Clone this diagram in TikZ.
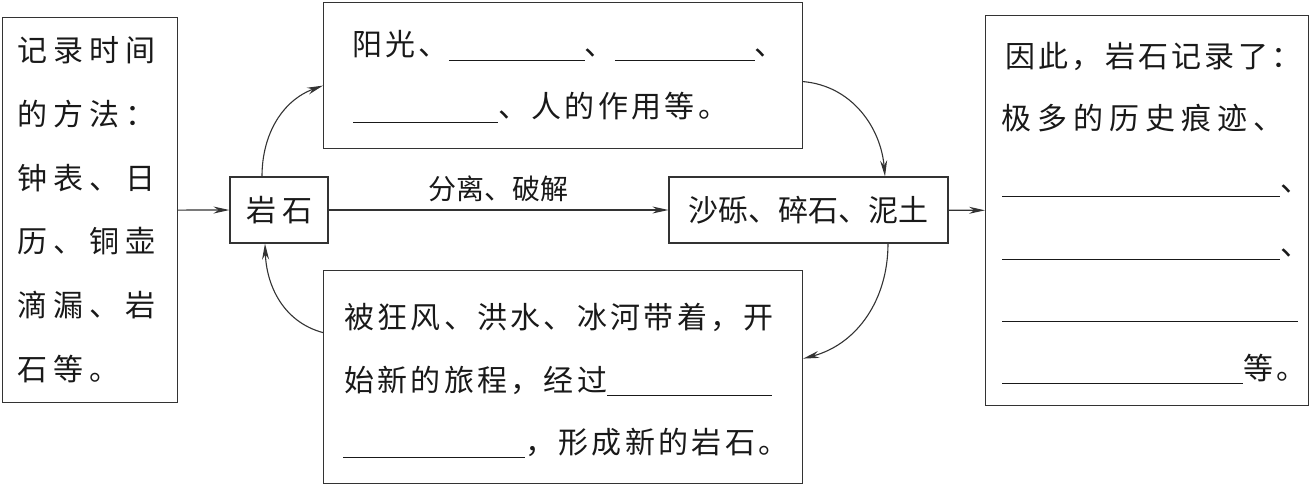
\documentclass[tikz,border=0pt]{standalone}
\usepackage{fontspec}
\usetikzlibrary{arrows.meta}
\newfontfamily\cnText[LetterSpace=11]{Noto Sans CJK SC}
\newfontfamily\cnWide[LetterSpace=20]{Noto Sans CJK SC}
\newfontfamily\cnTight{Noto Sans CJK SC}
\newcommand{\blank}[1]{\rule[-5pt]{#1pt}{1.2pt}}

\begin{document}
\begin{tikzpicture}[x=1pt, y=-1pt,
    box/.style={draw=black!80, line width=1.2pt, inner sep=0pt},
    txt/.style={anchor=base west, inner sep=0pt, text=black!90, font=\fontsize{30}{36}\selectfont\cnText},
    txtwide/.style={txt, font=\fontsize{30}{36}\selectfont\cnWide},
    flow/.style={draw=black!80, line width=1.1pt, -{Stealth[length=16pt,width=7pt]}}]
  \useasboundingbox (0,0) rectangle (1315,484);
  % boxes
  \node[box, minimum width=175pt, minimum height=385pt, anchor=north west] (timebox) at (2,17) {};
  \node[box, minimum width=98pt, minimum height=66pt, text=black!90, font=\fontsize{30}{36}\selectfont\cnWide] (rock) at (279,210) {岩石};
  \node[box, minimum width=479pt, minimum height=146pt, anchor=north west] (sunbox) at (323,2) {};
  \node[box, minimum width=279pt, minimum height=66pt, text=black!90, font=\fontsize{30}{36}\selectfont\cnTight] (gravel) at (808.5,210) {沙砾、碎石、泥土};
  \node[box, minimum width=479pt, minimum height=213pt, anchor=north west] (travelbox) at (323,270) {};
  \node[box, minimum width=323pt, minimum height=390pt, anchor=north west] (recordbox) at (985,15) {};
  % left text
  \foreach \line [count=\i from 0] in {记录时间, 的方法：, 钟表、日, 历、铜壶, 滴漏、岩, 石等。}
    \node[txtwide] (time\i) at (17, 62+63.6*\i) {\line};
  % top text
  \node[txt] (sun1) at (352,56) {阳光、\blank{136}、\blank{140}、};
  \node[txt] (sun2) at (353,118) {\blank{145}、人的作用等。};
  % bottom text
  \node[txt] (trav1) at (344,328) {被狂风、洪水、冰河带着，开};
  \node[txt] (trav2) at (344,391) {始新的旅程，经过\blank{165}};
  \node[txt] (trav3) at (343,453) {\blank{182}，形成新的岩石。};
  % right text
  \node[txt] (rec1) at (1005,68) {因此，岩石记录了：};
  \node[txtwide] (rec2) at (1001,130) {极多的历史痕迹、};
  \node[txt] (rec3) at (1002,192) {\blank{278}、};
  \node[txt] (rec4) at (1002,255) {\blank{278}、};
  \node[txt] (rec5) at (1002,317) {\blank{296}};
  \node[txt] (rec6) at (1002,379) {\blank{241}等。};
  % arrows
  \draw[flow] (timebox) -- (rock);
  \draw[flow] (rock) -- node[above=8pt, inner sep=0pt, text=black!90, font=\fontsize{28}{34}\selectfont\cnTight] (split) {分离、破解} (gravel);
  \draw[flow] (gravel) -- (recordbox);
  \draw[flow] ([xshift=-17pt]rock.north) to[out=90, in=200] ([yshift=-10pt]sunbox.west);
  \draw[flow] ([yshift=-6pt]sunbox.east) to[out=-5, in=95] ([xshift=76.5pt]gravel.north);
  \draw[flow] ([xshift=79.5pt]gravel.south) to[out=-90, in=15] ([yshift=18.5pt]travelbox.east);
  \draw[flow] ([yshift=44.5pt]travelbox.west) to[out=165, in=-88] ([xshift=-14pt]rock.south);
\end{tikzpicture}
\end{document}
